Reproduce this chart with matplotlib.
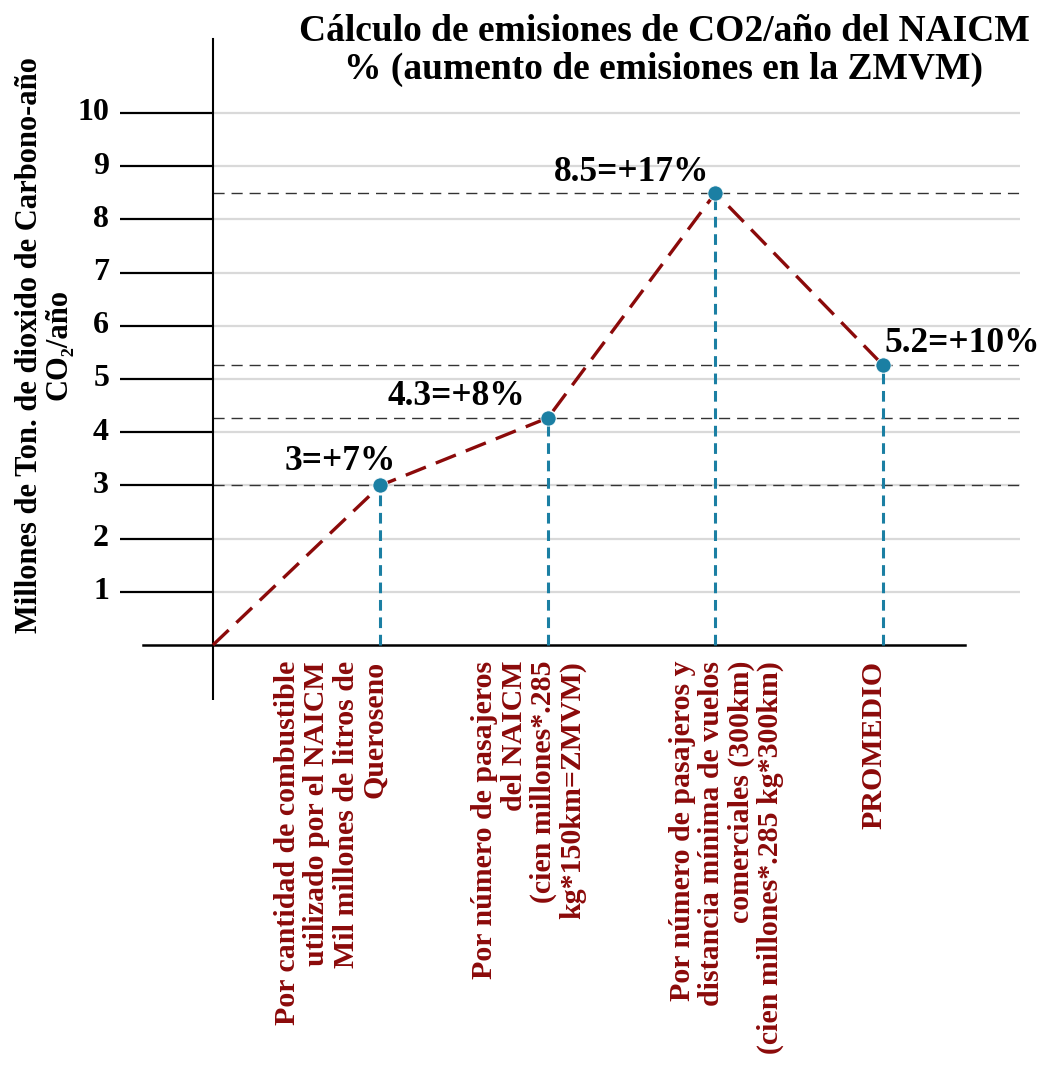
import matplotlib
matplotlib.use("Agg")
import matplotlib.pyplot as plt
from matplotlib.transforms import ScaledTranslation

# data
categories = [
    "Por cantidad de combustible\nutilizado por el NAICM\nMil millones de litros de\nQueroseno",
    "Por número de pasajeros\ndel NAICM\n(cien millones*.285\nkg*150km=ZMVM)",
    "Por número de pasajeros y\ndistancia mínima de vuelos\ncomerciales (300km)\n(cien millones*.285 kg*300km)",
    "PROMEDIO",
]
values = [3.0, 4.27, 8.5, 5.26]
value_labels = ["3=+7%", "4.3=+8%", "8.5=+17%", "5.2=+10%"]
yticks = list(range(1, 11))

# offsets (pixels) for the value labels and category labels
label_dx = [-40, -92, -84, 79]
label_dy = [15, 13, 12, 13]
cat_dx = [-49, -19, 11, -9]

plt.rcParams["font.family"] = ["Liberation Serif", "DejaVu Serif"]
plt.rcParams["font.weight"] = "bold"

RED = "#8b0a0a"
TEAL = "#1b7fa3"

fig = plt.figure(figsize=(10.47, 10.72), dpi=100)
ax = fig.add_axes([120 / 1047, 1 - 700 / 1072, 900 / 1047, 670 / 1072])
x0, x1 = -0.555, 4.818
y0, y1 = -1.034, 11.56
ax.set_xlim(x0, x1)
ax.set_ylim(y0, y1)
ax.axis("off")

xs = list(range(1, len(values) + 1))

# grid and tick lines
ax.hlines(yticks, 0, x1, color="#d9d9d9", lw=1.6, zorder=1)
ax.hlines(yticks, x0, 0, color="black", lw=1.6, zorder=2)
for t in yticks:
    ax.text(-0.62, t, str(t), ha="right", va="center", fontsize=23,
            transform=ax.transData, clip_on=False)

# axes lines
ax.plot([-0.42, 4.49], [0, 0], color="black", lw=1.8, zorder=3)
ax.plot([0, 0], [-1.03, 11.4], color="black", lw=1.5, zorder=3)

# reference dashed lines at each value
ax.hlines(values, 0, x1, color="#333333", lw=1.0, linestyles=(0, (8, 5)), zorder=2)

# vertical drop lines
ax.vlines(xs, 0, values, color=TEAL, lw=2.2, linestyles=(0, (3.5, 2.2)), zorder=4)

# main dashed series from origin
ax.plot([0] + xs, [0] + values, color=RED, lw=2.4, dashes=(6.5, 3.2), zorder=5)
ax.plot(xs, values, "o", color=TEAL, ms=11, mec="white", mew=0.6, zorder=6)

for x, v, s, dx, dy in zip(xs, values, value_labels, label_dx, label_dy):
    ax.annotate(s, (x, v), xytext=(dx * 0.72, dy * 0.72), textcoords="offset points",
                ha="center", va="baseline", fontsize=25.5, zorder=7)

for x, s, dx in zip(xs, categories, cat_dx):
    tr = ax.transData + ScaledTranslation(dx / 100, -16 / 100, fig.dpi_scale_trans)
    ax.text(x, 0, s, rotation=90, ha="center", va="top", multialignment="right",
            fontsize=21.5, color=RED, transform=tr, linespacing=1.1, clip_on=False)

fig.text(664 / 1047, 1 - 14 / 1072,
         "Cálculo de emisiones de CO2/año del NAICM\n% (aumento de emisiones en la ZMVM)",
         ha="center", va="top", fontsize=27, linespacing=1.1)

fig.text(44 / 1047, 1 - 345 / 1072,
         "Millones de Ton. de dioxido de Carbono-año\nCO₂/año",
         rotation=90, ha="center", va="center", multialignment="center",
         fontsize=22, linespacing=1.0)

fig.savefig("out.png", dpi=100)
